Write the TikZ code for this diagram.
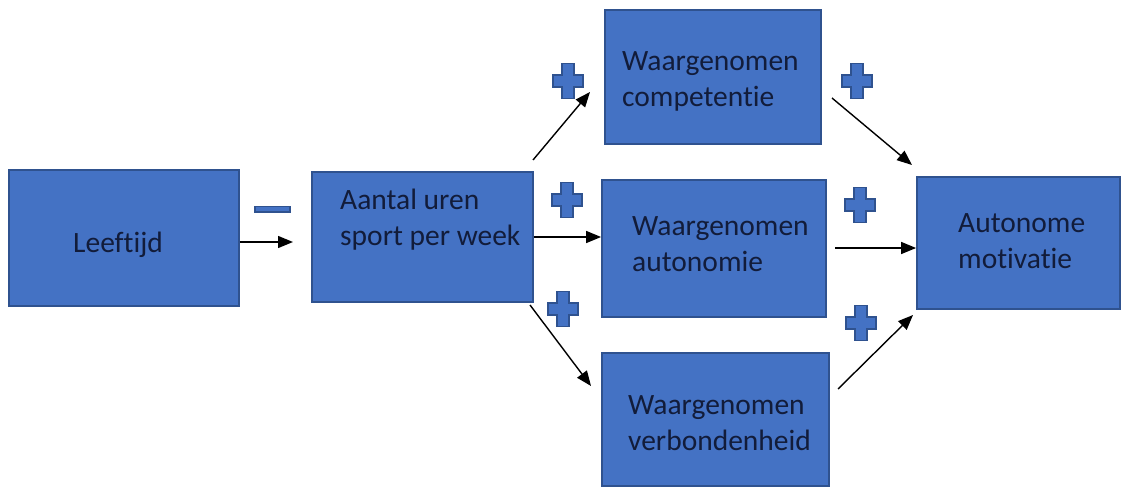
\documentclass[tikz,border=0pt]{standalone}
\usepackage{fontspec}
\setmainfont{Carlito}[Ligatures={NoCommon,NoRare,NoContextual},RawFeature={-calt}]
\usetikzlibrary{arrows.meta}
\definecolor{boxblue}{HTML}{4472C4}
\definecolor{boxedge}{HTML}{2F528F}
\definecolor{txt}{HTML}{121C3A}
\tikzset{
  box/.style={draw=boxedge, line width=1.8pt, fill=boxblue, rectangle, inner sep=0pt},
  lbl/.style={anchor=west, align=left, inner sep=0pt, text=txt, font=\fontsize{29.5}{36}\selectfont},
  arr/.style={line width=1.4pt, -{Triangle[length=15pt,width=12pt]}},
  signstyle/.style={fill=boxblue, draw=boxedge, line width=1.2pt},
  pluspic/.pic={\path[signstyle] (-6,-17.5) -- (6,-17.5) -- (6,-6) -- (15,-6) -- (15,6) -- (6,6) -- (6,17.5) -- (-6,17.5) -- (-6,6) -- (-15,6) -- (-15,-6) -- (-6,-6) -- cycle;}
}
\begin{document}
\begin{tikzpicture}[x=1pt,y=-1pt]
\useasboundingbox (0,0) rectangle (1121,487);
\fill[white] (0,0) rectangle (1121,487);
% boxes
\node[box, minimum width=230pt, minimum height=136pt] (leeft) at (124,238) {};
\node[box, minimum width=221pt, minimum height=130pt] (aant) at (422.5,237) {};
\node[box, minimum width=216pt, minimum height=134pt] (comp) at (713,77) {};
\node[box, minimum width=224pt, minimum height=137pt] (auton) at (714,248.5) {};
\node[box, minimum width=227pt, minimum height=133pt] (verb) at (715.5,419.5) {};
\node[box, minimum width=203pt, minimum height=132pt] (mot) at (1018.5,243) {};
% labels
\node[lbl] (tleeft) at (73,245) {Leeftijd};
\node[lbl] (taant) at (340,220) {Aantal uren\\sport per week};
\node[lbl] (tcomp) at (622,81) {Waargenomen\\competentie};
\node[lbl] (tauton) at (632,244) {Waargenomen\\autonomie};
\node[lbl] (tverb) at (628,423) {Waargenomen\\verbondenheid};
\node[lbl] (tmot) at (958,241) {Autonome\\motivatie};
% connectors
\coordinate (e1) at (293,242);
\draw[arr] (leeft.east |- e1) -- (e1);
\draw[arr] (aant.east) -- (aant.east -| auton.west);
\coordinate (s2) at (533,160);
\coordinate (e2) at (590,92);
\draw[arr] (s2) -- (e2);
\coordinate (s3) at (530,305);
\coordinate (e3) at (591,386);
\draw[arr] (s3) -- (e3);
\coordinate (s4) at (832,98);
\coordinate (e4) at (912,165);
\draw[arr] (s4) -- (e4);
\coordinate (s5) at (835,248);
\draw[arr] (s5) -- (s5 -| mot.west);
\coordinate (s6) at (838,389);
\coordinate (e6) at (913,315);
\draw[arr] (s6) -- (e6);
% signs
\path[signstyle] (255,206.5) rectangle (290,212);
\pic at (568,81) {pluspic};
\pic at (857,81) {pluspic};
\pic at (567,200) {pluspic};
\pic at (860,205) {pluspic};
\pic at (563,309) {pluspic};
\pic at (861,323) {pluspic};
\end{tikzpicture}
\end{document}
